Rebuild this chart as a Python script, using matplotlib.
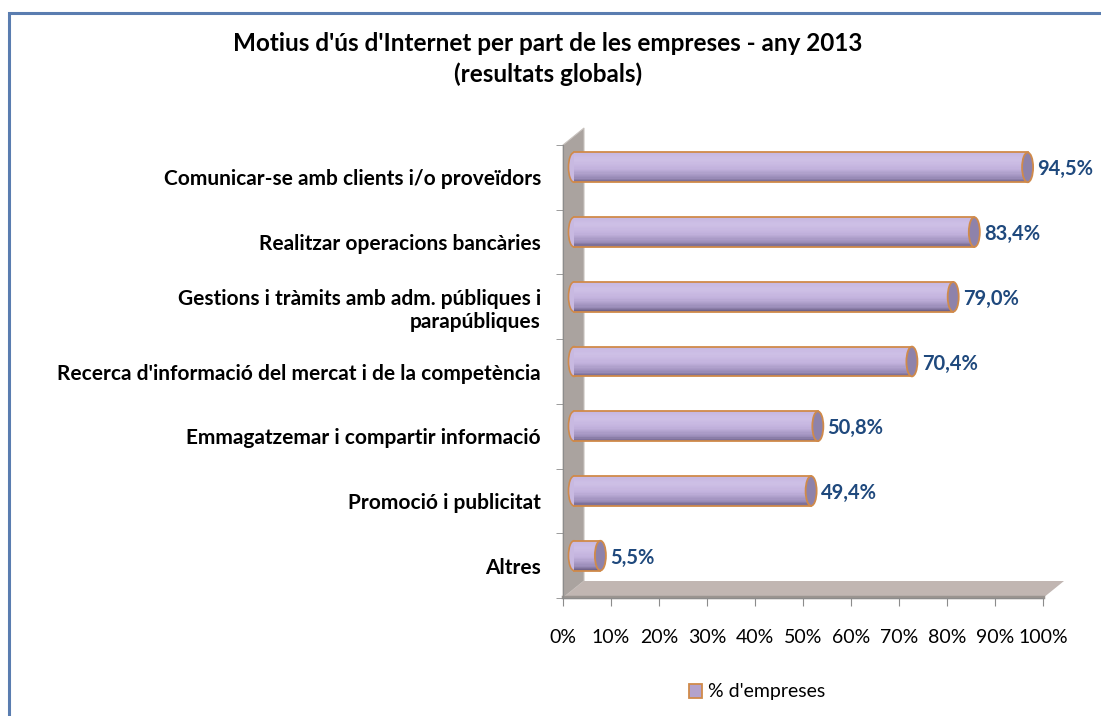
import numpy as np
import matplotlib.pyplot as plt
import matplotlib.transforms as mtransforms
from matplotlib.patches import Polygon, Ellipse, Rectangle, Patch
from matplotlib.colors import to_rgb

plt.rcParams['font.family'] = ['Lato', 'DejaVu Sans']

# data
categories = ["Altres",
              "Promoció i publicitat",
              "Emmagatzemar i compartir informació",
              "Recerca d'informació del mercat i de la competència",
              "Gestions i tràmits amb adm. públiques i\nparapúbliques",
              "Realitzar operacions bancàries",
              "Comunicar-se amb clients i/o proveïdors"]
values = [5.5, 49.4, 50.8, 70.4, 79.0, 83.4, 94.5]
value_labels = ["5,5%", "49,4%", "50,8%", "70,4%", "79,0%", "83,4%", "94,5%"]
xticks = [0, 10, 20, 30, 40, 50, 60, 70, 80, 90, 100]
title = "Motius d'ús d'Internet per part de les empreses - any 2013\n(resultats globals)"
series_name = "% d'empreses"

fig = plt.figure(figsize=(11.01, 7.16), dpi=100)
W, H = 1101, 716
ax = fig.add_axes([563 / W, 1 - 598 / H, 480 / W, 453 / H])
ax.set_xlim(0, 100)
ax.set_ylim(-0.5, len(categories) - 0.5)

# blue frame around chart
fig.patches.append(Rectangle((9 / W, -0.05), 1.2, 1 - 13 / H + 0.05, transform=fig.transFigure,
                             fill=False, edgecolor="#5A7DB0", linewidth=2.2, zorder=0))

# 3d offsets in pixels
back = mtransforms.ScaledTranslation(21 / 100, 17 / 100, fig.dpi_scale_trans)
mid = mtransforms.ScaledTranslation(11 / 100, 10 / 100, fig.dpi_scale_trans)
t_back = ax.transData + back
t_mid = ax.transData + mid

ybot, ytop = -0.5, len(categories) - 0.5
# wall
wall_pts = np.array([(0, ybot), (0, ytop)])
wall_poly = np.vstack([ax.transData.transform(wall_pts), t_back.transform(wall_pts)[::-1]])
ax.add_patch(Polygon(wall_poly, closed=True, transform=None, facecolor="#AAA39F",
                     edgecolor="#C8C2BE", linewidth=0.8, zorder=1, clip_on=False))
# floor
floor_pts = np.array([(0, ybot), (100, ybot)])
floor_poly = np.vstack([ax.transData.transform(floor_pts), t_back.transform(floor_pts)[::-1]])
ax.add_patch(Polygon(floor_poly, closed=True, transform=None, facecolor="#C1B6B2",
                     edgecolor="none", zorder=1, clip_on=False))
ax.plot([0, 100], [ybot, ybot], color="#9A9490", lw=2.5, zorder=1.5, clip_on=False,
        transform=ax.transData + mtransforms.ScaledTranslation(0, 1.5 / 100, fig.dpi_scale_trans))

# cylinders
bh = 0.46
ew = 2.3
nslice = 24
stops = [0.0, 0.15, 0.45, 0.75, 1.0]
cols = [to_rgb("#6A5E84"), to_rgb("#9A8CB8"), to_rgb("#C2B2DD"), to_rgb("#CEC0E6"), to_rgb("#C6B7E0")]
edge = "#D08A4A"
for i, v in enumerate(values):
    # left rounded end
    ax.add_patch(Ellipse((0, i), ew, bh, transform=t_mid, facecolor="#C8B9E1",
                         edgecolor=edge, linewidth=1.2, zorder=2, clip_on=False))
    for k in range(nslice):
        f = (k + 0.5) / nslice
        c = [np.interp(f, stops, [cc[j] for cc in cols]) for j in range(3)]
        y0 = i - bh / 2 + k * bh / nslice
        ax.barh(y0, v, height=bh / nslice * 1.05, left=0, align="edge", color=c,
                linewidth=0, transform=t_mid, zorder=3, clip_on=False)
    ax.plot([0, v], [i + bh / 2, i + bh / 2], color=edge, lw=1.3, transform=t_mid, zorder=4, clip_on=False)
    ax.plot([0, v], [i - bh / 2, i - bh / 2], color=edge, lw=1.3, transform=t_mid, zorder=4, clip_on=False)
    ax.add_patch(Ellipse((v, i), ew, bh, transform=t_mid, facecolor="#8E82AA",
                         edgecolor=edge, linewidth=1.3, zorder=5, clip_on=False))
    ax.annotate(value_labels[i], (v, i), xycoords=t_mid, xytext=(7, -1.5), textcoords="offset points",
                ha="left", va="center", fontsize=14.5, fontweight="bold", color="#1F497D", zorder=6)

# axes styling
for s in ["top", "right"]:
    ax.spines[s].set_visible(False)
ax.spines["left"].set_color("#8C8C8C")
ax.spines["bottom"].set_color("#8C8C8C")
ax.spines["left"].set_zorder(1.6)
ax.patch.set_visible(False)

ax.set_xticks(xticks)
ax.set_xticklabels([f"{t}%" for t in xticks], fontsize=14)
ax.tick_params(axis="x", length=6, color="#8C8C8C", pad=16)
ax.set_yticks(range(len(categories)))
ax.set_yticklabels(categories, fontsize=15, fontweight="bold", linespacing=1.2)
ax.tick_params(axis="y", which="major", length=0, pad=16)
ax.set_yticks(np.arange(-0.5, len(categories), 1), minor=True)
ax.tick_params(axis="y", which="minor", length=5, color="#8C8C8C")

fig.text(548 / W, 1 - 59 / H, title, ha="center", va="center", fontsize=17.5, fontweight="bold",
         linespacing=1.4)

fig.legend(handles=[Patch(facecolor="#B3A2CC", edgecolor=edge, linewidth=1.3, label=series_name)],
           loc="center", bbox_to_anchor=(757 / W, 1 - 692 / H), frameon=False, fontsize=14,
           handlelength=0.7, handleheight=0.7, handletextpad=0.3)

fig.savefig("out.png", dpi=100)
